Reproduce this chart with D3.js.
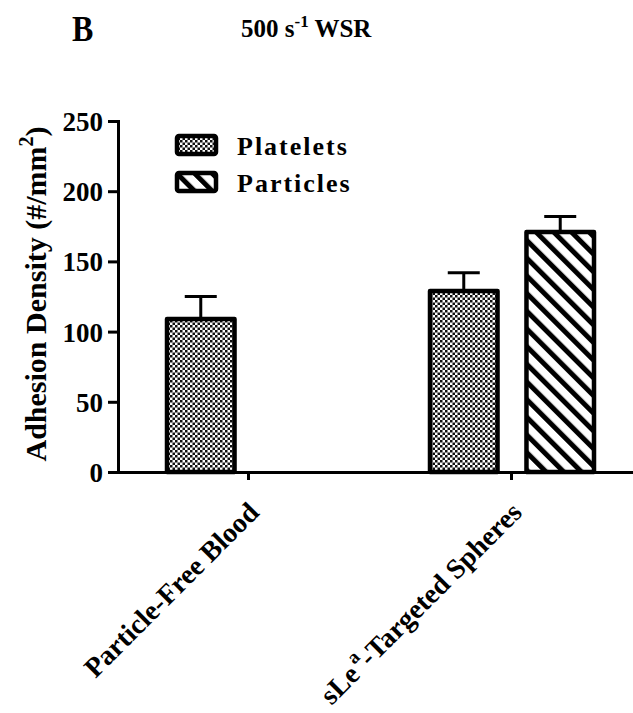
<!DOCTYPE html>
<html>
<head>
<meta charset="utf-8">
<script src="https://cdn.jsdelivr.net/npm/d3@7"></script>
<style>
  html, body { margin: 0; padding: 0; background: #fff; }
  svg text { font-family: "Liberation Serif", "Times New Roman", serif; font-weight: bold; fill: #000; }
</style>
</head>
<body>
<svg id="chart" width="633" height="713"></svg>
<script>
// Groups along the x axis and the two measured series
const categories = ["Particle-Free Blood", "sLea-Targeted Spheres"];
const series = ["Platelets", "Particles"];
const plateletMeans = [109, 129];
const plateletErrors = [16, 13];
const particleMeans = [null, 171];
const particleErrors = [null, 11];
const yTicks = [0, 50, 100, 150, 200, 250];

const svg = d3.select("#chart");

// Fill patterns: fine checkerboard and diagonal hatch
const defs = svg.append("defs");
const checker = defs.append("pattern")
  .attr("id", "checker").attr("patternUnits", "userSpaceOnUse")
  .attr("width", 5).attr("height", 5);
checker.append("rect").attr("width", 5).attr("height", 5).attr("fill", "#fff");
checker.append("rect").attr("width", 2.5).attr("height", 2.5).attr("fill", "#111");
checker.append("rect").attr("x", 2.5).attr("y", 2.5).attr("width", 2.5).attr("height", 2.5).attr("fill", "#111");

const hatch = defs.append("pattern")
  .attr("id", "hatch").attr("patternUnits", "userSpaceOnUse")
  .attr("width", 12.5).attr("height", 12.5)
  .attr("patternTransform", "rotate(-45)");
hatch.append("rect").attr("width", 12.5).attr("height", 12.5).attr("fill", "#fff");
hatch.append("rect").attr("x", 0).attr("y", 0).attr("width", 5).attr("height", 12.5).attr("fill", "#000");

const fills = { Platelets: "url(#checker)", Particles: "url(#hatch)" };

// Scales
const y = d3.scaleLinear().domain([0, 250]).range([472, 121]);
const x0 = d3.scaleBand().domain(categories).range([117, 643]).paddingInner(0).paddingOuter(0);
const x1 = d3.scaleBand().domain(series).range([50, 214]).paddingInner(0.3).paddingOuter(0);

// Bars
const rows = [];
categories.forEach((c, i) => {
  rows.push({ cat: c, s: "Platelets", v: plateletMeans[i], e: plateletErrors[i] });
  rows.push({ cat: c, s: "Particles", v: particleMeans[i], e: particleErrors[i] });
});
const data = rows.filter(d => d.v != null);

const bars = svg.append("g");
// error bars (upper only)
bars.selectAll("g.err").data(data).join("g").attr("class", "err").each(function (d) {
  const cx = x0(d.cat) + x1(d.s) + x1.bandwidth() / 2;
  const g = d3.select(this);
  g.append("line").attr("x1", cx).attr("x2", cx).attr("y1", y(d.v)).attr("y2", y(d.v + d.e))
    .attr("stroke", "#000").attr("stroke-width", 3);
  g.append("line").attr("x1", cx - 16).attr("x2", cx + 16).attr("y1", y(d.v + d.e)).attr("y2", y(d.v + d.e))
    .attr("stroke", "#000").attr("stroke-width", 3);
});
bars.selectAll("rect.bar").data(data).join("rect").attr("class", "bar")
  .attr("x", d => x0(d.cat) + x1(d.s))
  .attr("width", x1.bandwidth())
  .attr("y", d => y(d.v))
  .attr("height", d => y(0) - y(d.v))
  .attr("fill", d => fills[d.s])
  .attr("stroke", "#000").attr("stroke-width", 4.5)
  .attr("stroke-linejoin", "round");

// Y axis
const yAxis = svg.append("g").attr("transform", "translate(118,0)")
  .call(d3.axisLeft(y).tickValues(yTicks).tickSize(10).tickPadding(5).tickFormat(d3.format("d")));
yAxis.select(".domain").attr("stroke-width", 3);
yAxis.selectAll(".tick line").attr("stroke-width", 3);
yAxis.selectAll(".tick text").attr("font-size", 27).attr("font-family", "Liberation Serif").attr("font-weight", "bold").attr("dy", "0.35em");

// X axis
const xAxis = svg.append("g").attr("transform", "translate(0,472)")
  .call(d3.axisBottom(x0).tickSize(8).tickSizeOuter(0).tickFormat(""));
xAxis.select(".domain").attr("stroke-width", 3);
xAxis.selectAll(".tick line").attr("stroke-width", 3);

// Rotated category labels
const labelG = svg.append("g");
categories.forEach((c, i) => {
  const tx = x0(c) + x0.bandwidth() / 2 + 12;
  const t = labelG.append("text")
    .attr("transform", `translate(${tx},514) rotate(-45)`)
    .attr("text-anchor", "end")
    .attr("font-size", 28);
  if (i === 1) {
    t.append("tspan").text("sLe");
    t.append("tspan").attr("font-size", 19).attr("dx", 3).attr("dy", -13).text("a");
    t.append("tspan").attr("dy", 13).text("-Targeted Spheres");
  } else {
    t.text(c);
  }
});

// Y axis title
const yt = svg.append("text")
  .attr("transform", "translate(46,294) rotate(-90)")
  .attr("text-anchor", "middle").attr("font-size", 30);
yt.append("tspan").text("Adhesion Density (#/mm");
yt.append("tspan").attr("font-size", 20).attr("dy", -13).text("2");
yt.append("tspan").attr("dy", 13).text(")");

// Legend
const legend = svg.append("g");
series.forEach((s, i) => {
  const ly = 134 + i * 37;
  legend.append("rect").attr("x", 177).attr("y", ly + 2).attr("width", 39).attr("height", 18)
    .attr("rx", 2).attr("fill", fills[s]).attr("stroke", "#000").attr("stroke-width", 4.5)
    .attr("stroke-linejoin", "round");
  legend.append("text").attr("x", 237).attr("y", ly + 21).attr("font-size", 26)
    .attr("letter-spacing", 2).text(s);
});

// Panel letter and title
svg.append("text").attr("transform", "translate(72,41) scale(1,1.1)").attr("font-size", 32).text("B");
const title = svg.append("text").attr("x", 241).attr("y", 37).attr("font-size", 25);
title.append("tspan").text("500 s");
title.append("tspan").attr("font-size", 17).attr("dy", -10).text("-1");
title.append("tspan").attr("dy", 10).text(" WSR");
</script>
</body>
</html>
